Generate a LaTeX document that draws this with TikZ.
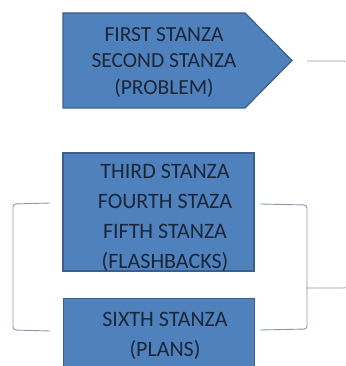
\documentclass[tikz,border=0pt]{standalone}
\usepackage{fontspec}
\setmainfont{Carlito}
\definecolor{boxfill}{HTML}{4F81BD}
\definecolor{boxline}{HTML}{3A5F8E}
\definecolor{txt}{HTML}{1B2638}
\definecolor{conn}{HTML}{8A97AA}
\tikzset{
  stanzabox/.style={fill=boxfill, draw=boxline, line width=1.2pt},
  stanzatext/.style={text=txt, align=center, font=\fontsize{21.5}{26.5}\selectfont},
  stanzatextb/.style={text=txt, align=center, font=\fontsize{22}{30}\selectfont},
  bracketline/.style={draw=conn, line width=0.9pt, rounded corners=3pt},
}
\begin{document}
\begin{tikzpicture}[x=1pt,y=1pt]
\useasboundingbox (0,0) rectangle (345,366);
\clip (0,0) rectangle (345,366);
% top pentagon
\draw[stanzabox] (63,353) -- (245,353) -- (292,305.5) -- (245,258) -- (63,258) -- cycle;
\coordinate (tip) at (292,305.5);
\node[stanzatext] (t1) at (164,303.5) {FIRST STANZA\\SECOND STANZA\\(PROBLEM)};
% middle box
\node[stanzabox, minimum width=191pt, minimum height=118pt, inner sep=0pt] (mid) at (158.5,154) {};
\node[stanzatextb] (t2) at (165,148.5) {THIRD STANZA\\FOURTH STAZA\\FIFTH STANZA\\(FLASHBACKS)};
% bottom box
\node[stanzabox, minimum width=191pt, minimum height=80pt, inner sep=0pt, anchor=north west] (bot) at (63,68) {};
\node[stanzatextb] (t3) at (165,30) {SIXTH STANZA\\(PLANS)};
% brackets
\coordinate (a1) at (307,305);
\coordinate (a2) at (347,305);
\coordinate (a3) at (347,78);
\coordinate (a4) at (306,78);
\draw[bracketline] (a1) -- (a2) -- (a3) -- (a4);
\coordinate (l1) at (50,163);
\coordinate (l2) at (13,162);
\coordinate (l3) at (13,36);
\coordinate (l4) at (50,35);
\draw[bracketline] (l1) -- (l2) -- (l3) -- (l4);
\coordinate (r1) at (260,162);
\coordinate (r2) at (307,161);
\coordinate (r3) at (307,37);
\coordinate (r4) at (260,36);
\draw[bracketline] (r1) -- (r2) -- (r3) -- (r4);
\end{tikzpicture}
\end{document}
